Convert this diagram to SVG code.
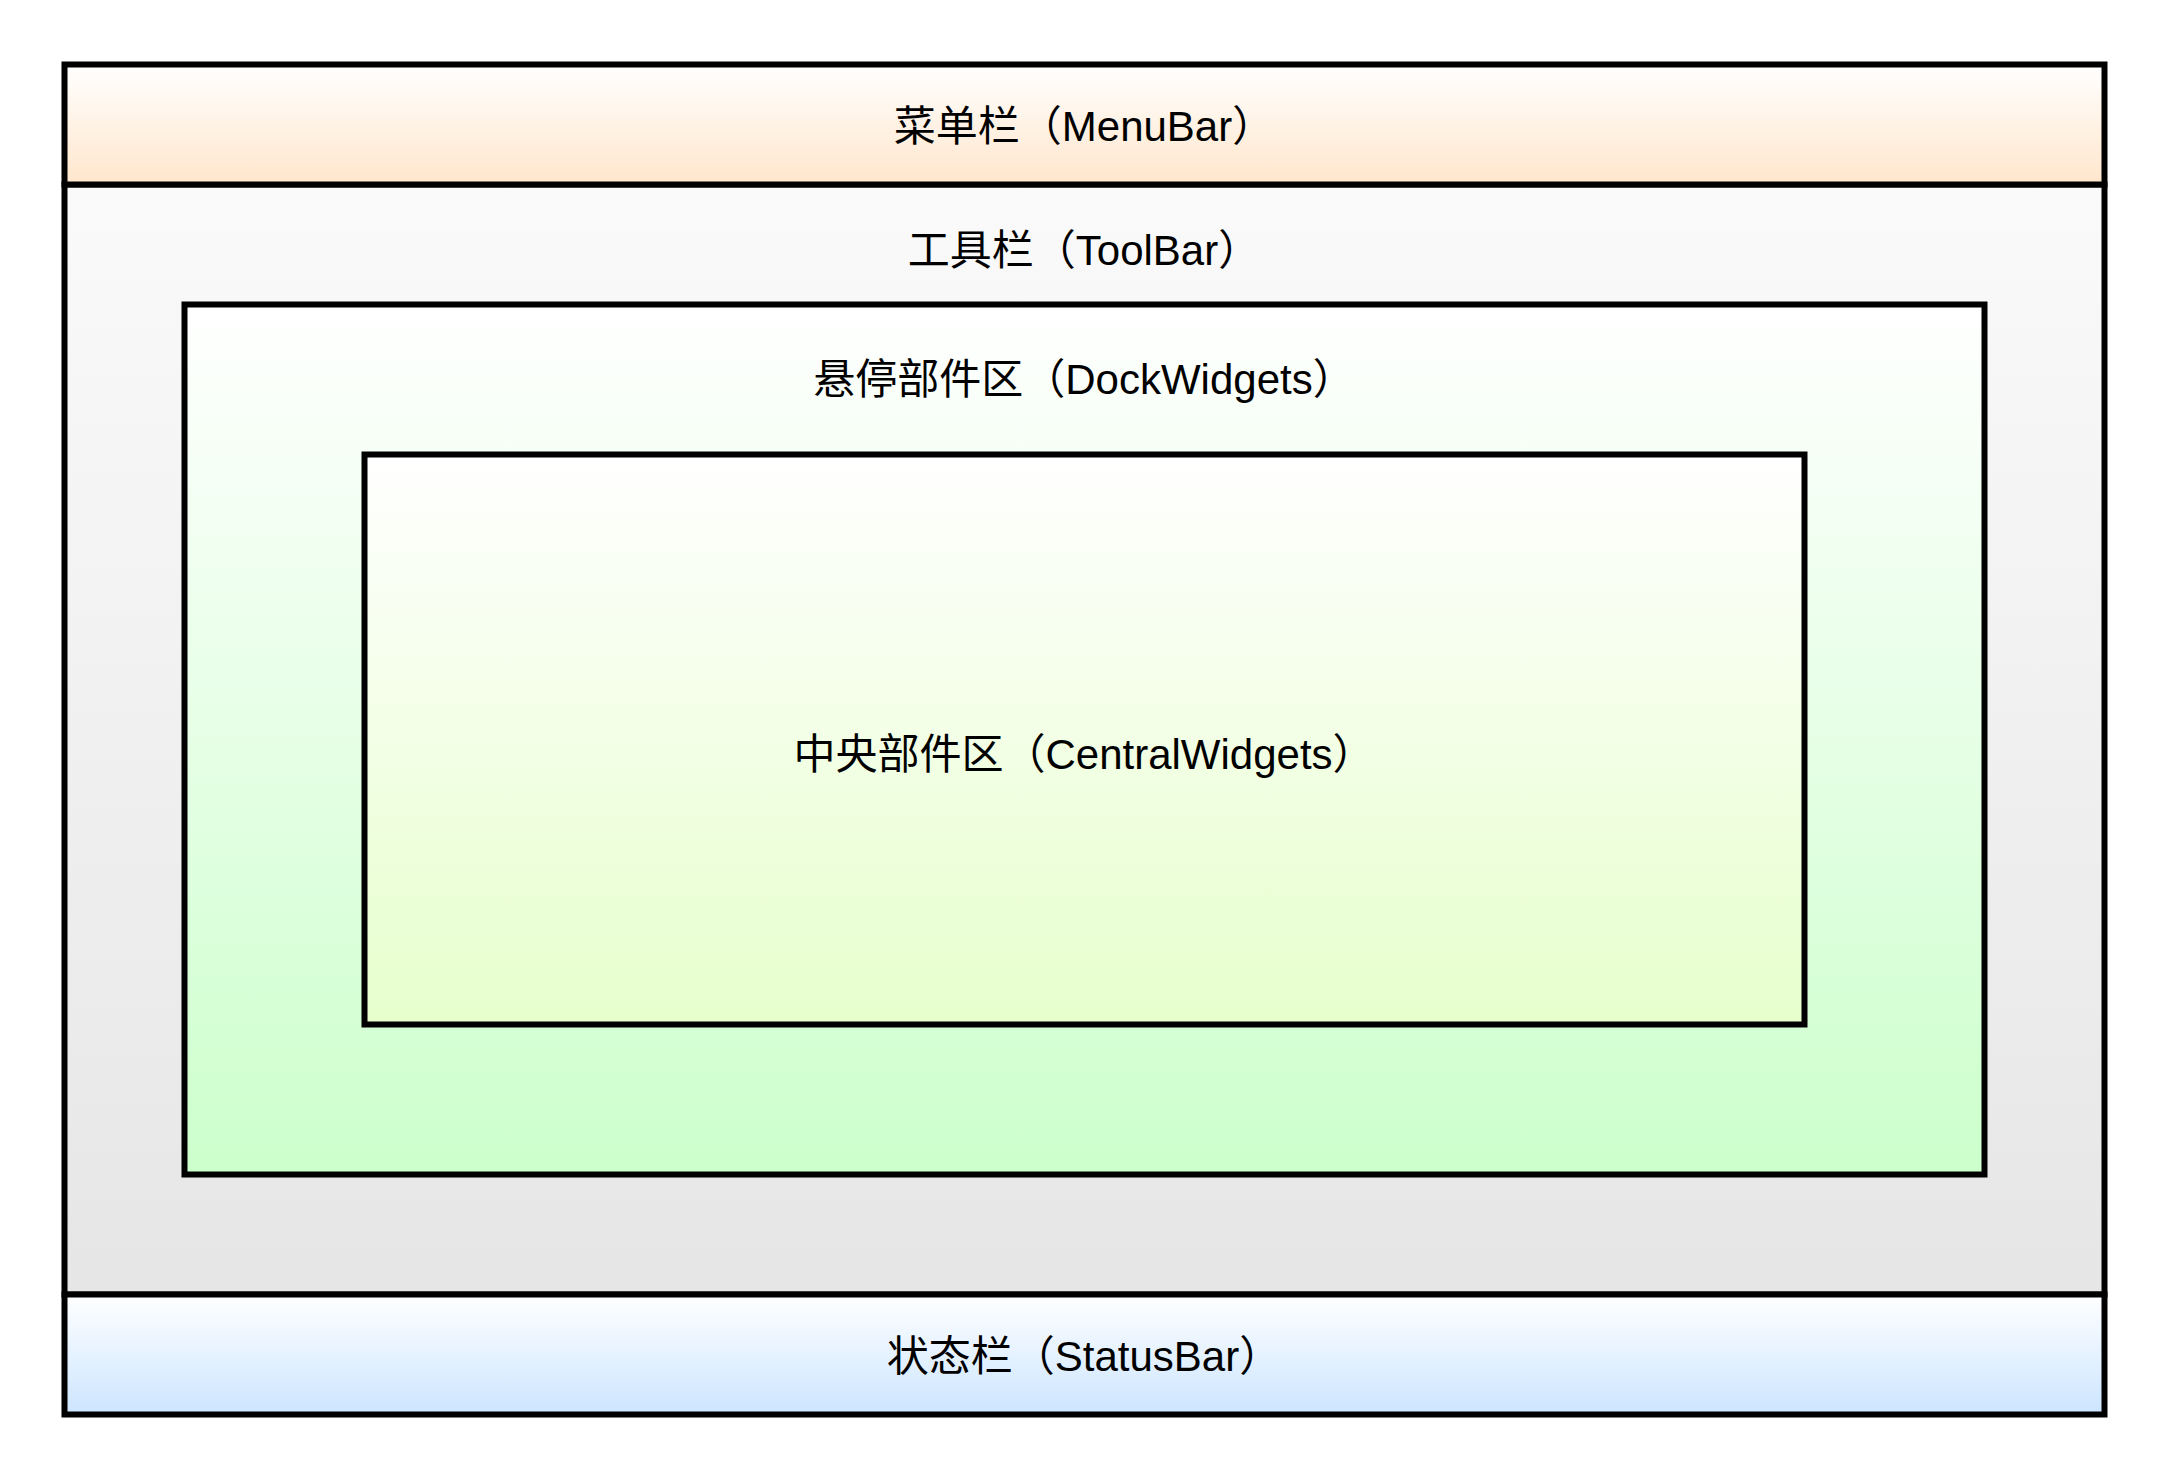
<svg xmlns="http://www.w3.org/2000/svg" width="2166" height="1476" viewBox="0 0 2166 1476">
<defs>
<linearGradient id="gMenu" x1="0" y1="0" x2="0" y2="1"><stop offset="0" stop-color="#FFFFFF"/><stop offset="1" stop-color="#FFE6CC"/></linearGradient>
<linearGradient id="gTool" x1="0" y1="0" x2="0" y2="1"><stop offset="0" stop-color="#FAFAFA"/><stop offset="1" stop-color="#E6E6E6"/></linearGradient>
<linearGradient id="gDock" x1="0" y1="0" x2="0" y2="1"><stop offset="0" stop-color="#FFFFFF"/><stop offset="1" stop-color="#CCFFCC"/></linearGradient>
<linearGradient id="gCentral" x1="0" y1="0" x2="0" y2="1"><stop offset="0" stop-color="#FFFFFF"/><stop offset="1" stop-color="#E6FFCC"/></linearGradient>
<linearGradient id="gStatus" x1="0" y1="0" x2="0" y2="1"><stop offset="0" stop-color="#FFFFFF"/><stop offset="1" stop-color="#CCE5FF"/></linearGradient>
</defs>
<style>
.box{stroke:#000000;stroke-width:6}
.lbl{font-family:"Liberation Sans","Noto Sans CJK SC",sans-serif;font-size:42px;fill:#000000;text-anchor:middle;dominant-baseline:central}
</style>
<rect width="2166" height="1476" fill="#FFFFFF"/>
<g id="toolbar">
<rect class="box" x="64.5" y="184.5" width="2040" height="1110" fill="url(#gTool)"/>
<text class="lbl" x="1084" y="250">工具栏（ToolBar）</text>
</g>
<g id="menubar">
<rect class="box" x="64.5" y="64.5" width="2040" height="120" fill="url(#gMenu)"/>
<text class="lbl" x="1084" y="126">菜单栏（MenuBar）</text>
</g>
<g id="statusbar">
<rect class="box" x="64.5" y="1294.5" width="2040" height="120" fill="url(#gStatus)"/>
<text class="lbl" x="1084" y="1356">状态栏（StatusBar）</text>
</g>
<g id="dockwidgets">
<rect class="box" x="184.5" y="304.5" width="1800" height="870" fill="url(#gDock)"/>
<text class="lbl" x="1084" y="379">悬停部件区（DockWidgets）</text>
</g>
<g id="centralwidgets">
<rect class="box" x="364.5" y="454.5" width="1440" height="570" fill="url(#gCentral)"/>
<text class="lbl" x="1084" y="754">中央部件区（CentralWidgets）</text>
</g>
<g id="connectors"/>
</svg>
